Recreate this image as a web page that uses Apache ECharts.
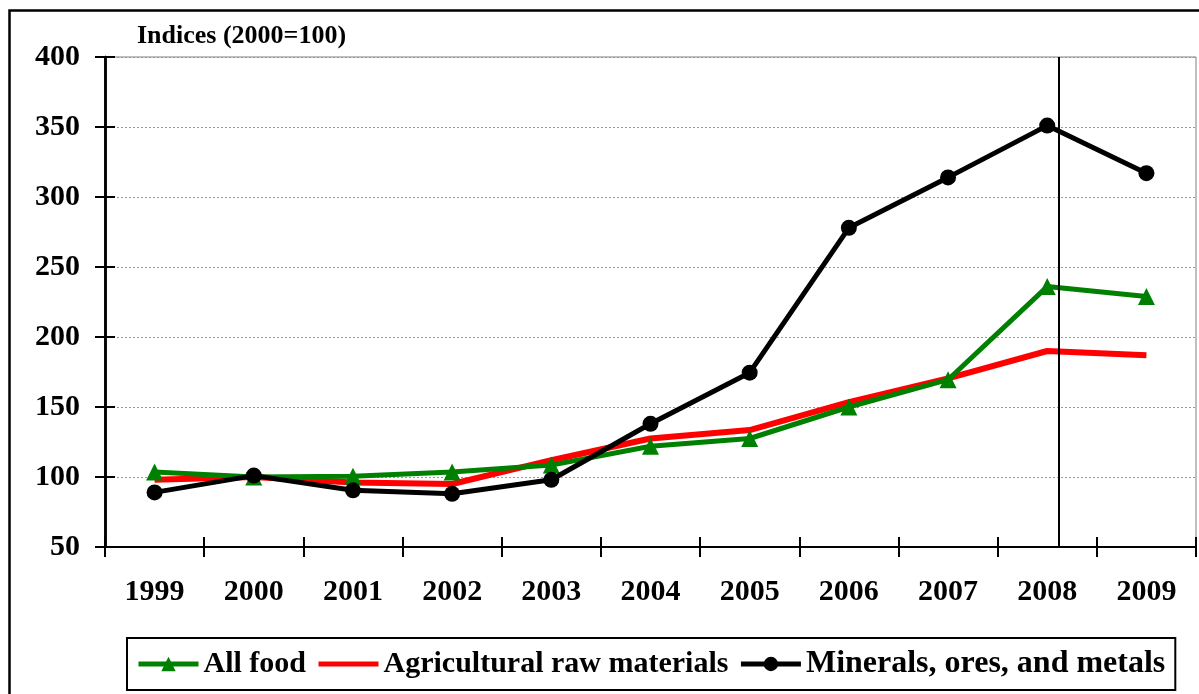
<!DOCTYPE html>
<html>
<head>
<meta charset="utf-8">
<script src="https://cdn.jsdelivr.net/npm/echarts@6/dist/echarts.min.js"></script>
<style>html,body{margin:0;padding:0;background:#fff}#c{width:1199px;height:694px}</style>
</head>
<body>
<div id="c"></div>
<script>
const years = ['1999','2000','2001','2002','2003','2004','2005','2006','2007','2008','2009'];
const allFood = [103.5, 100, 100.5, 103.5, 108.5, 122, 127.5, 150, 169.5, 236, 229];
const agriRaw = [98, 100, 96, 95, 112, 127.5, 133.5, 153.5, 170.5, 190, 187];
const minerals = [89, 101, 90.5, 88, 98, 138, 174.5, 278, 314, 351, 317];
const yTicks = {min: 50, max: 400, interval: 50};
const markerPos = 9.12; // vertical separator just after 2008 (category index units)
const titleText = 'Indices (2000=100)';

const FONT = 'Liberation Serif';
const chart = echarts.init(document.getElementById('c'));
chart.setOption({
  animation: false,
  backgroundColor: '#fff',
  title: {
    text: titleText, left: 132, top: 18,
    textStyle: {fontFamily: FONT, fontWeight: 'bold', fontSize: 26, color: '#000'}
  },
  grid: {left: 105, right: 3, top: 57, bottom: 147, show: true, borderColor: '#808080', borderWidth: 1},
  legend: {
    left: 127, top: 638, padding: [10, 10, 10, 9],
    borderColor: '#000', borderWidth: 2, itemGap: 10, itemWidth: 60, itemHeight: 18,
    lineStyle: {width: 5},
    textStyle: {fontFamily: FONT, fontWeight: 'bold', fontSize: 30, color: '#000'},
    data: [
      {name: 'All food'},
      {name: 'Agricultural raw materials', itemStyle: {opacity: 0}},
      {name: 'Minerals, ores, and metals', textStyle: {fontSize: 32}}
    ]
  },
  graphic: [{
    type: 'rect', left: 7, top: 8, silent: true, z: -1,
    shape: {width: 1400, height: 900},
    style: {fill: 'none', stroke: '#000', lineWidth: 2.5}
  }],
  xAxis: [{
    type: 'category', data: years, position: 'bottom', boundaryGap: true,
    axisLine: {onZero: false, lineStyle: {color: '#000', width: 2}},
    axisTick: {show: true, length: 10, lineStyle: {color: '#000', width: 2}, alignWithLabel: false},
    axisLabel: {fontFamily: FONT, fontWeight: 'bold', fontSize: 30, color: '#000', margin: 30},
    splitLine: {show: false}
  }, {
    type: 'category', data: years, position: 'bottom', boundaryGap: true,
    axisLine: {show: false, onZero: false},
    axisTick: {show: true, inside: true, length: 10, lineStyle: {color: '#000', width: 2}},
    axisLabel: {show: false}, splitLine: {show: false}
  }, {
    type: 'value', min: -0.5, max: 10.5, show: false,
    axisLine: {show: false, onZero: false}, splitLine: {show: false}
  }],
  yAxis: [{
    type: 'value', min: yTicks.min, max: yTicks.max, interval: yTicks.interval, position: 'left',
    axisLine: {show: true, onZero: false, lineStyle: {color: '#000', width: 2.5}},
    axisTick: {show: true, length: 10, lineStyle: {color: '#000', width: 2}},
    axisLabel: {fontFamily: FONT, fontWeight: 'bold', fontSize: 30, color: '#000', margin: 25},
    splitLine: {show: true, lineStyle: {color: '#999', width: 1, type: [2, 2]}}
  }, {
    type: 'value', min: yTicks.min, max: yTicks.max, interval: yTicks.interval, position: 'left',
    axisLine: {show: true, onZero: false, lineStyle: {color: '#000', width: 2.5}},
    axisTick: {show: true, inside: true, length: 10, lineStyle: {color: '#000', width: 2}},
    axisLabel: {show: false}, splitLine: {show: false}
  }],
  series: [{
    name: 'Agricultural raw materials', type: 'line', data: agriRaw, symbol: 'none',
    lineStyle: {color: '#ff0000', width: 6}, itemStyle: {color: '#ff0000'}, z: 3
  }, {
    name: 'All food', type: 'line', data: allFood, symbol: 'triangle', symbolSize: 17,
    lineStyle: {color: '#008000', width: 5}, itemStyle: {color: '#008000'}, z: 4
  }, {
    name: 'Minerals, ores, and metals', type: 'line', data: minerals, symbol: 'circle', symbolSize: 16,
    lineStyle: {color: '#000', width: 5}, itemStyle: {color: '#000'}, z: 5
  }, {
    type: 'line', xAxisIndex: 2, data: [], silent: true,
    markLine: {
      symbol: 'none', silent: true, label: {show: false},
      lineStyle: {color: '#000', width: 2, type: 'solid'},
      data: [{xAxis: markerPos}]
    }
  }]
});
</script>
</body>
</html>
